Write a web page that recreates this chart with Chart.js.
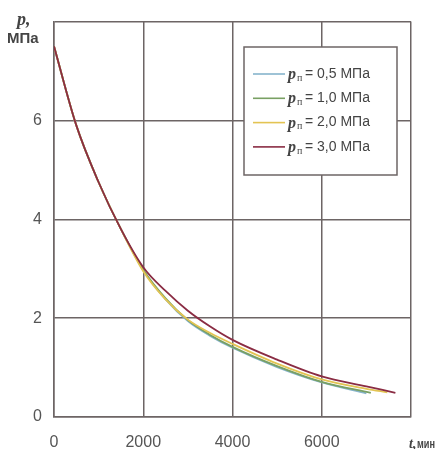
<!DOCTYPE html>
<html>
<head>
<meta charset="utf-8">
<script src="https://cdn.jsdelivr.net/npm/chart.js@4/dist/chart.umd.min.js"></script>
<style>
  body { margin: 0; background: #fff; }
  #wrap { width: 436px; height: 449px; }
</style>
</head>
<body>
<div id="wrap"><canvas id="pressureChart" width="436" height="449"></canvas></div>
<script>
'use strict';

// values: time, min / pressure, MPa
const xTicks = [0, 2000, 4000, 6000];
const yTicks = [0, 2, 4, 6];
const seriesNames = ['0,5', '1,0', '2,0', '3,0'];

const t05 = [0, 500, 1000, 1500, 2000, 2500, 3000, 3500, 4000, 5000, 6000, 7000];
const p05 = [7.5, 5.9, 4.75, 3.8, 2.97, 2.38, 1.94, 1.64, 1.40, 1.01, 0.70, 0.48];

const t10 = [0, 500, 1000, 1500, 2000, 2500, 3000, 3500, 4000, 5000, 6000, 7100];
const p10 = [7.5, 5.9, 4.75, 3.8, 2.98, 2.40, 1.96, 1.66, 1.42, 1.03, 0.71, 0.49];

const t20 = [0, 500, 1000, 1500, 2000, 2500, 3000, 3500, 4000, 5000, 6000, 7000, 7470];
const p20 = [7.5, 5.9, 4.75, 3.8, 2.95, 2.38, 1.97, 1.70, 1.48, 1.08, 0.76, 0.57, 0.50];

const t30 = [0, 500, 1000, 1500, 2000, 2500, 3000, 3500, 4000, 5000, 6000, 7000, 7650];
const p30 = [7.5, 5.9, 4.75, 3.8, 3.03, 2.55, 2.15, 1.83, 1.56, 1.16, 0.82, 0.62, 0.49];

const colors = ['#86b4cc', '#79a063', '#e3c453', '#8a2c43'];

function pts(t, p) {
  return t.map((v, i) => ({ x: v, y: p[i] }));
}

const gridColor = '#6d6565';
const tickFont = { family: '"Liberation Sans", Arial, sans-serif', size: 16 };

// legend with the subscript and axis captions
const extras = {
  id: 'extras',
  afterDraw(chart) {
    const ctx = chart.ctx;
    ctx.save();
    // legend box
    ctx.fillStyle = '#fff';
    ctx.fillRect(244, 47, 153, 128);
    ctx.strokeStyle = gridColor;
    ctx.lineWidth = 1.5;
    ctx.strokeRect(244, 47, 153, 128);
    ctx.textBaseline = 'middle';
    chart.data.datasets.forEach((ds, i) => {
      const y = 74 + i * 24.3;
      ctx.strokeStyle = ds.borderColor;
      ctx.lineWidth = 1.6;
      ctx.beginPath();
      ctx.moveTo(253, y);
      ctx.lineTo(285, y);
      ctx.stroke();
      ctx.fillStyle = '#444';
      ctx.font = 'bold italic 16px "Liberation Serif", serif';
      ctx.fillText('p', 288, y + 1);
      ctx.font = '10px "Liberation Serif", serif';
      ctx.fillText('п', 297, y + 4);
      ctx.font = '14px "Liberation Sans", sans-serif';
      ctx.fillText('= ' + seriesNames[i] + ' МПа', 305, y, 86);
    });
    // axis captions
    ctx.fillStyle = '#444';
    ctx.textBaseline = 'alphabetic';
    ctx.font = 'bold italic 18px "Liberation Serif", serif';
    ctx.fillText('p,', 17, 25);
    ctx.font = 'bold 15px "Liberation Sans", sans-serif';
    ctx.fillText('МПа', 7, 43, 33);
    ctx.font = 'bold italic 14px "Liberation Serif", serif';
    ctx.fillText('t,', 409, 448);
    ctx.font = 'bold 13px "Liberation Sans", sans-serif';
    ctx.fillText('мин', 417, 448, 18);
    ctx.restore();
  }
};

const chartObject = {
  type: 'line',
  data: {
    datasets: [
      { label: 'pп = 0,5 МПа', data: pts(t05, p05), borderColor: colors[0], order: 3 },
      { label: 'pп = 1,0 МПа', data: pts(t10, p10), borderColor: colors[1], order: 2 },
      { label: 'pп = 2,0 МПа', data: pts(t20, p20), borderColor: colors[2], order: 1 },
      { label: 'pп = 3,0 МПа', data: pts(t30, p30), borderColor: colors[3], order: 0 }
    ]
  },
  options: {
    responsive: false,
    animation: false,
    layout: { padding: { top: 20, right: 25, left: 0, bottom: 0 } },
    elements: {
      point: { radius: 0 },
      line: { borderWidth: 1.8, cubicInterpolationMode: 'monotone', fill: false }
    },
    plugins: { legend: { display: false }, tooltip: { enabled: false } },
    scales: {
      x: {
        type: 'linear',
        min: 0,
        max: 8000,
        afterFit(scale) { scale.height = 32; },
        afterBuildTicks(scale) {
          scale.ticks = xTicks.concat([8000]).map(v => ({ value: v }));
        },
        ticks: {
          padding: 16,
          color: '#555',
          font: tickFont,
          maxRotation: 0,
          callback: v => (xTicks.includes(v) ? String(v) : '')
        },
        grid: { color: gridColor, lineWidth: 1.5, drawTicks: false },
        border: { color: gridColor, width: 1.5 }
      },
      y: {
        min: 0,
        max: 8,
        afterFit(scale) { scale.width = 54; },
        afterBuildTicks(scale) {
          scale.ticks = yTicks.concat([8]).map(v => ({ value: v }));
        },
        ticks: {
          padding: 12,
          color: '#555',
          font: tickFont,
          callback: v => (yTicks.includes(v) ? String(v) : '')
        },
        grid: { color: gridColor, lineWidth: 1.5, drawTicks: false },
        border: { color: gridColor, width: 1.5 }
      }
    }
  },
  plugins: [extras]
};

let ctx = document.getElementById('pressureChart').getContext('2d');
let myChart = new Chart(ctx, chartObject);
</script>
</body>
</html>
